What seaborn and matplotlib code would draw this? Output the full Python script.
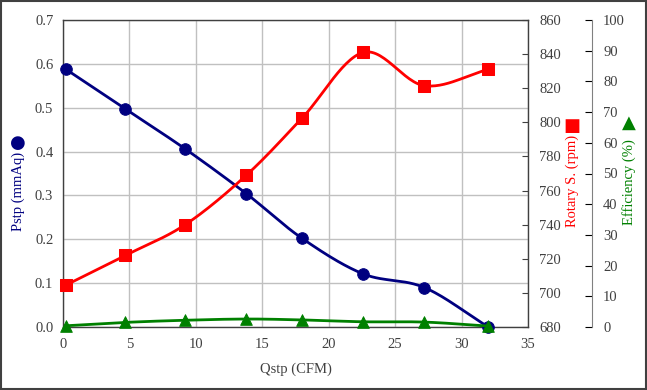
import matplotlib
matplotlib.use("Agg")
import matplotlib.pyplot as plt
import seaborn as sns
import numpy as np
import pandas as pd
from matplotlib.patches import Rectangle

# values
qstp = [0.2, 4.7, 9.2, 13.8, 18.0, 22.6, 27.2, 32.0]
pstp = [0.588, 0.497, 0.406, 0.304, 0.202, 0.121, 0.090, 0.0]
rotary = [704.5, 722.0, 740.0, 769.0, 802.5, 841.0, 821.5, 831.0]
efficiency = [0.4, 1.5, 2.2, 2.6, 2.3, 1.7, 1.6, 0.3]

NAVY = "#000080"
RED = "#ff0000"
GREEN = "#008000"


def smooth(x, y, n=30):
    # Catmull-Rom style smoothing like the spreadsheet "smoothed line"
    x = np.asarray(x, float)
    y = np.asarray(y, float)
    px = np.concatenate([[2 * x[0] - x[1]], x, [2 * x[-1] - x[-2]]])
    py = np.concatenate([[2 * y[0] - y[1]], y, [2 * y[-1] - y[-2]]])
    xs, ys = [], []
    t = np.linspace(0, 1, n)
    for i in range(1, len(px) - 2):
        for arr, out in ((px, xs), (py, ys)):
            p0, p1, p2, p3 = arr[i - 1], arr[i], arr[i + 1], arr[i + 2]
            c1 = p1 + (p2 - p0) / 6
            c2 = p2 - (p3 - p1) / 6
            out.extend((1 - t) ** 3 * p1 + 3 * (1 - t) ** 2 * t * c1 + 3 * (1 - t) * t ** 2 * c2 + t ** 3 * p2)
    return np.array(xs), np.array(ys)


sns.set_style("white")
plt.rcParams['font.family'] = ['Liberation Serif', 'DejaVu Sans']
plt.rcParams['font.size'] = 10.5

W, H = 647, 390
fig = plt.figure(figsize=(W / 100, H / 100), dpi=100)
ax = fig.add_axes([63 / W, 1 - 327 / H, 465 / W, 307 / H])
ax2 = ax.twinx()
ax3 = ax.twinx()

df = pd.DataFrame({"q": qstp, "p": pstp, "r": rotary, "e": efficiency})

# left: pressure
sx, sy = smooth(qstp, pstp)
sns.lineplot(x=sx, y=sy, ax=ax, color=NAVY, lw=2, sort=False, zorder=3)
sns.scatterplot(data=df, x="q", y="p", ax=ax, color=NAVY, marker="o", s=70,
                edgecolor=NAVY, zorder=4, clip_on=False)
ax.set_xlim(0, 35)
ax.set_ylim(0, 0.7)
ax.set_xticks(np.arange(0, 36, 5))
ax.set_yticks(np.arange(0, 0.71, 0.1))
ax.set_yticklabels([f"{v:.1f}" for v in np.arange(0, 0.71, 0.1)])
ax.grid(True, color="#c0c0c0", lw=1)
ax.set_axisbelow(True)
ax.tick_params(axis="both", length=0, colors="#404040", labelsize=10.5)
ax.tick_params(axis="y", pad=7)
ax.tick_params(axis="x", pad=8)
ax.set_xlabel("Qstp (CFM)", color="#404040", fontsize=10.5, labelpad=8)
ax.set_ylabel("")
for s in ax.spines.values():
    s.set_color("#404040")
    s.set_linewidth(1)

# right: rotary speed
rx, ry = smooth(qstp, rotary)
sns.lineplot(x=rx, y=ry, ax=ax2, color=RED, lw=2, sort=False, zorder=3)
sns.scatterplot(data=df, x="q", y="r", ax=ax2, color=RED, marker="s", s=85,
                edgecolor=RED, zorder=4, clip_on=False)
ax2.set_ylim(680, 860)
ax2.set_yticks(np.arange(680, 861, 20))
ax2.tick_params(axis="y", direction="in", length=4, color="#404040",
                colors="#404040", labelsize=10.5, pad=8)
ax2.tick_params(axis="y", color="#404040")
ax2.set_ylabel("")
ax2.grid(False)
for s in ax2.spines.values():
    s.set_visible(False)

# far right: efficiency
ex, ey = smooth(qstp, efficiency)
sns.lineplot(x=ex, y=ey, ax=ax3, color=GREEN, lw=2, sort=False, zorder=3)
sns.scatterplot(data=df, x="q", y="e", ax=ax3, color=GREEN, marker="^", s=70,
                edgecolor=GREEN, zorder=4, clip_on=False)
ax3.set_ylim(0, 100)
ax3.set_yticks(np.arange(0, 101, 10))
ax3.spines["right"].set_position(("axes", (592 - 63) / 465))
for k, s in ax3.spines.items():
    s.set_visible(k == "right")
ax3.spines["right"].set_color("#808080")
ax3.tick_params(axis="y", direction="in", length=5, color="black",
                colors="#404040", labelsize=10.5, pad=8)
ax3.tick_params(axis="y", color="black")
ax3.set_ylabel("")
ax3.grid(False)

# axis titles with marker symbols
fig.text(18 / W, 1 - 191 / H, "Pstp (mmAq)", rotation=90, color=NAVY,
         ha="center", va="center", fontsize=10.5)
fig.text(18 / W, 1 - 143 / H, "●", color=NAVY, ha="center", va="center",
         fontsize=13, family=["DejaVu Sans"])
fig.text(572 / W, 1 - 181 / H, "Rotary S. (rpm)", rotation=90, color=RED,
         ha="center", va="center", fontsize=10.5)
fig.text(572 / W, 1 - 126 / H, "■", color=RED, ha="center", va="center",
         fontsize=13, family=["DejaVu Sans"])
fig.text(629 / W, 1 - 182 / H, "Efficiency (%)", rotation=90, color=GREEN,
         ha="center", va="center", fontsize=10.5)
fig.text(629 / W, 1 - 123 / H, "▲", color=GREEN, ha="center", va="center",
         fontsize=13, family=["DejaVu Sans"])

fig.patches.append(Rectangle((0.001, 0.002), 0.997, 0.995, transform=fig.transFigure,
                             fill=False, edgecolor="#404040", lw=1.5))

fig.savefig("out.png", dpi=100)
